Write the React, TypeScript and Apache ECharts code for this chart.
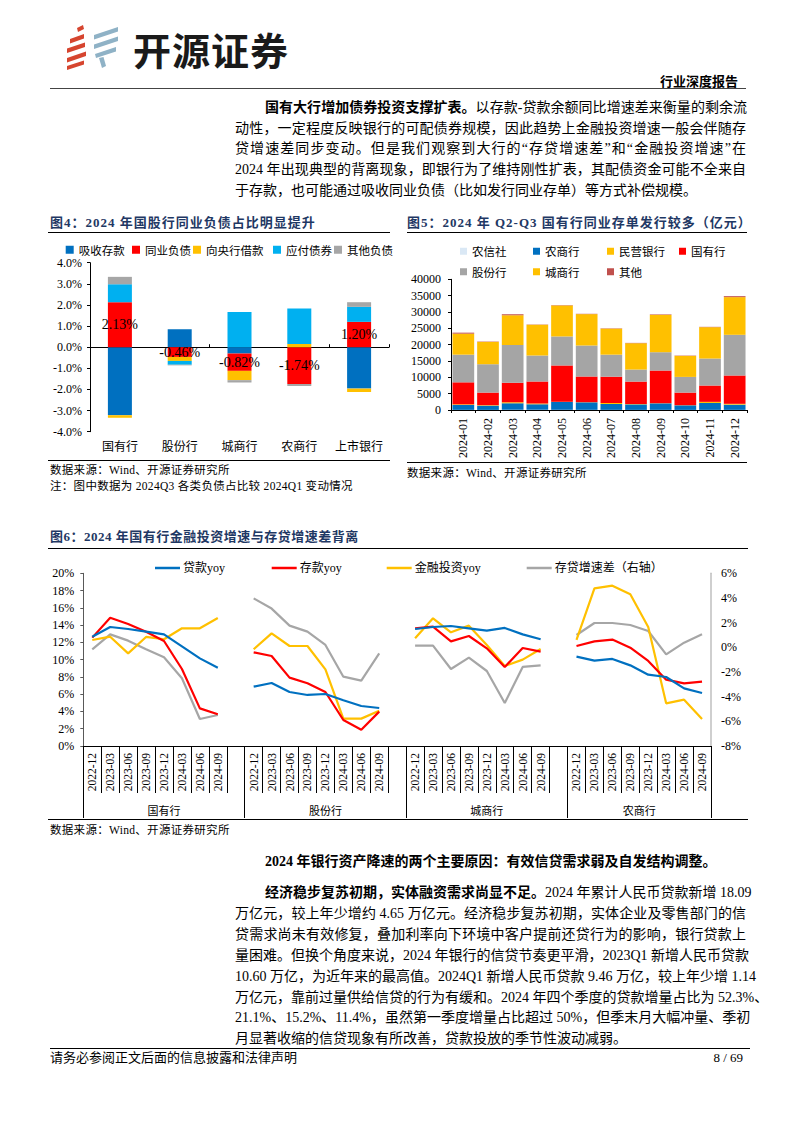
import React, { useEffect, useRef } from "react";
import * as echarts from "echarts";

const FONT = "'Liberation Serif', 'Noto Sans CJK SC', serif";
const CJK = "'Noto Sans CJK SC', sans-serif";
const TITLE_COLOR = "#1f3864";

// ---------- Figure 4 ----------
const F4_CATEGORIES = ["国有行", "股份行", "城商行", "农商行", "上市银行"];
const F4_NAMES = ["吸收存款", "同业负债", "向央行借款", "应付债券", "其他负债"];
const F4_DEPOSITS = [-3.22, 0.85, -0.3, 0, -1.96];
const F4_INTERBANK = [2.13, -0.46, -0.82, -1.74, 1.2];
const F4_CENTRAL = [-0.12, -0.19, -0.44, 0.15, -0.16];
const F4_BONDS = [0.85, -0.18, 1.67, 1.68, 0.71];
const F4_OTHER = [0.35, -0.03, -0.11, -0.1, 0.22];
const F4_COLORS = ["#0070c0", "#ff0000", "#ffc000", "#00b0f0", "#a6a6a6"];
const F4_Y = { min: -4, max: 4, interval: 1 };

// ---------- Figure 5 ----------
const F5_MONTHS = [
  "2024-01", "2024-02", "2024-03", "2024-04", "2024-05", "2024-06",
  "2024-07", "2024-08", "2024-09", "2024-10", "2024-11", "2024-12",
];
const F5_NAMES = ["农信社", "农商行", "民营银行", "国有行", "股份行", "城商行", "其他"];
const F5_RURAL_COOP = [40, 30, 50, 40, 60, 50, 40, 30, 40, 30, 40, 40];
const F5_RURAL_COMM = [1500, 1300, 2000, 1700, 2400, 2300, 1800, 1700, 2000, 1400, 2100, 1600];
const F5_PRIVATE = [200, 150, 300, 250, 50, 50, 300, 100, 50, 50, 350, 250];
const F5_STATE = [6730, 3850, 6020, 6720, 11120, 7850, 8060, 6870, 9990, 3850, 5000, 8670];
const F5_JOINT = [8470, 8680, 11530, 7960, 8880, 9490, 6740, 3680, 5610, 4800, 8260, 12450];
const F5_CITY = [6430, 6840, 9080, 9390, 9490, 9600, 7960, 8060, 11430, 6430, 9600, 11530];
const F5_OTHERS = [300, 100, 300, 100, 100, 100, 100, 100, 150, 100, 100, 300];
const F5_COLORS = ["#dae8f5", "#0070c0", "#ffc000", "#ff0000", "#a5a5a5", "#ffc000", "#c0504d"];
const F5_Y = { min: 0, max: 40000, interval: 5000 };

// ---------- Figure 6 ----------
const F6_GROUPS = ["国有行", "股份行", "城商行", "农商行"];
const F6_DATES = ["2022-12", "2023-03", "2023-06", "2023-09", "2023-12", "2024-03", "2024-06", "2024-09"];
const F6_NAMES = ["贷款yoy", "存款yoy", "金融投资yoy", "存贷增速差（右轴）"];
// 国有行
const F6_STATE_LOAN = [12.66, 13.78, 13.55, 13.24, 12.93, 11.54, 10.15, 9.07];
const F6_STATE_DEP = [12.55, 14.86, 14.13, 13.24, 12.16, 8.92, 4.36, 3.67];
const F6_STATE_INV = [12.28, 12.66, 10.73, 12.63, 12.36, 13.63, 13.63, 14.83];
const F6_STATE_GAP = [-0.16, 1.05, 0.54, -0.16, -0.81, -2.51, -5.81, -5.49];
// 股份行
const F6_JOINT_LOAN = [6.87, 7.3, 6.25, 5.91, 6.02, 5.29, 4.63, 4.4];
const F6_JOINT_DEP = [10.85, 10.42, 7.92, 7.26, 6.25, 3.01, 1.89, 3.98];
const F6_JOINT_INV = [11.2, 13.05, 11.58, 11.58, 8.88, 3.17, 3.17, 4.09];
const F6_JOINT_GAP = [3.97, 3.14, 1.76, 1.27, 0.19, -2.38, -2.7, -0.49];
// 城商行
const F6_CITY_LOAN = [13.55, 13.78, 13.9, 13.63, 13.36, 13.67, 12.93, 12.36];
const F6_CITY_DEP = [13.63, 13.82, 12.12, 12.74, 11.31, 9.15, 11.35, 10.93];
const F6_CITY_INV = [12.47, 14.79, 13.17, 13.94, 11.7, 9.27, 10.0, 11.24];
const F6_CITY_GAP = [0.14, 0.14, -1.76, -0.84, -1.92, -4.51, -1.59, -1.46];
// 农商行
const F6_RURAL_LOAN = [10.35, 9.88, 10.08, 9.34, 8.26, 7.99, 6.68, 6.14];
const F6_RURAL_DEP = [11.58, 12.12, 12.32, 11.39, 9.85, 7.68, 7.26, 7.45];
const F6_RURAL_INV = [12.28, 18.26, 18.57, 17.57, 13.78, 4.94, 5.37, 3.13];
const F6_RURAL_GAP = [1.0, 1.97, 1.97, 1.81, 1.32, -0.57, 0.38, 1.05];
const F6_COLORS = ["#0070c0", "#ff0000", "#ffc000", "#a6a6a6"];
const F6_LEFT_Y = { min: 0, max: 20, interval: 2 };
const F6_RIGHT_Y = { min: -8, max: 6, interval: 2 };

function EChart({ option, style }: { option: any; style: React.CSSProperties }) {
  const ref = useRef<HTMLDivElement>(null);
  useEffect(() => {
    const chart = echarts.init(ref.current as HTMLDivElement, null, { renderer: "svg" });
    chart.setOption(option);
    return () => chart.dispose();
  }, []);
  return <div ref={ref} style={{ position: "absolute", ...style }} />;
}

// ---------- options ----------
function fig4Option() {
  const values = [F4_DEPOSITS, F4_INTERBANK, F4_CENTRAL, F4_BONDS, F4_OTHER];
  const legendLeft = [20.7, 87, 148, 228, 289];
  return {
    animation: false,
    textStyle: { fontFamily: FONT },
    legend: F4_NAMES.map((name, i) => ({
      data: [name],
      top: 3,
      left: legendLeft[i],
      icon: "rect",
      itemWidth: 8,
      itemHeight: 8,
      itemGap: 0,
      selectedMode: false,
      textStyle: { fontSize: 11.5, color: "#000", fontFamily: CJK },
    })),
    grid: { left: 50, right: 6, top: 26.7, bottom: 24.3 },
    xAxis: [
      {
        type: "category",
        data: F4_CATEGORIES,
        axisLine: { show: false, onZero: false },
        axisTick: { show: false },
        axisLabel: { interval: 0, fontSize: 12, color: "#000", margin: 8, fontFamily: CJK },
      },
      {
        type: "category",
        data: F4_CATEGORIES,
        position: "bottom",
        axisLine: { show: true, onZero: true, lineStyle: { color: "#000", width: 1 } },
        axisTick: { show: true, inside: true, length: 3, lineStyle: { color: "#000" } },
        axisLabel: { show: false },
      },
    ],
    yAxis: {
      type: "value",
      ...F4_Y,
      axisLine: { show: true, lineStyle: { color: "#000" } },
      axisTick: { show: true, length: 3, lineStyle: { color: "#000" } },
      splitLine: { show: false },
      axisLabel: {
        formatter: (v: number) => v.toFixed(1) + "%",
        fontSize: 12,
        color: "#000",
        margin: 8,
      },
    },
    series: F4_NAMES.map((name, i) => ({
      name,
      type: "bar",
      stack: "total",
      barWidth: 24,
      data: values[i],
      itemStyle: { color: F4_COLORS[i] },
      label:
        i === 1
          ? {
              show: true,
              position: "inside",
              formatter: (p: any) => Number(p.value).toFixed(2) + "%",
              color: "#000",
              fontSize: 14,
              fontFamily: FONT,
            }
          : { show: false },
    })),
  };
}

function fig5Option() {
  const values = [F5_RURAL_COOP, F5_RURAL_COMM, F5_PRIVATE, F5_STATE, F5_JOINT, F5_CITY, F5_OTHERS];
  const legendPos: [number, number][] = [
    [55, 4.5], [128, 4.5], [202, 4.5], [274, 4.5],
    [55, 25], [128, 25], [202, 25],
  ];
  return {
    animation: false,
    textStyle: { fontFamily: FONT },
    legend: F5_NAMES.map((name, i) => ({
      data: [name],
      left: legendPos[i][0],
      top: legendPos[i][1],
      icon: "rect",
      itemWidth: 7,
      itemHeight: 7,
      selectedMode: false,
      textStyle: { fontSize: 11.5, color: "#000", fontFamily: CJK },
    })),
    grid: { left: 51, right: 13, top: 43.3, bottom: 52 },
    xAxis: {
      type: "category",
      data: F5_MONTHS,
      axisLine: { lineStyle: { color: "#000" } },
      axisTick: { show: true, length: 3, lineStyle: { color: "#000" } },
      axisLabel: { rotate: 90, interval: 0, fontSize: 12, color: "#000", margin: 8 },
    },
    yAxis: {
      type: "value",
      ...F5_Y,
      axisLine: { show: true, lineStyle: { color: "#000" } },
      axisTick: { show: true, length: 3, lineStyle: { color: "#000" } },
      splitLine: { show: false },
      axisLabel: { formatter: (v: number) => String(v), fontSize: 12, color: "#000", margin: 10 },
    },
    series: F5_NAMES.map((name, i) => ({
      name,
      type: "bar",
      stack: "total",
      barCategoryGap: "12%",
      data: values[i],
      itemStyle: { color: F5_COLORS[i] },
    })),
  };
}

function fig6Option() {
  const groups = [
    [F6_STATE_LOAN, F6_STATE_DEP, F6_STATE_INV, F6_STATE_GAP],
    [F6_JOINT_LOAN, F6_JOINT_DEP, F6_JOINT_INV, F6_JOINT_GAP],
    [F6_CITY_LOAN, F6_CITY_DEP, F6_CITY_INV, F6_CITY_GAP],
    [F6_RURAL_LOAN, F6_RURAL_DEP, F6_RURAL_INV, F6_RURAL_GAP],
  ];
  const slots: string[] = [];
  const regions: [number, number][] = [];
  const seriesData: (number | null)[][] = [[], [], [], []];
  F6_GROUPS.forEach((_, gi) => {
    const start = slots.length;
    F6_DATES.forEach((d, di) => {
      slots.push(d);
      for (let s = 0; s < 4; s++) seriesData[s].push(groups[gi][s][di]);
    });
    if (gi < F6_GROUPS.length - 1) {
      slots.push("");
      for (let s = 0; s < 4; s++) seriesData[s].push(null);
    }
    regions.push([start, slots.length]);
  });
  const half = slots.length * 2 + 1;
  const groupAxis: string[] = new Array(half).fill("");
  const tickIdx = new Set<number>();
  const labelIdx = new Set<number>();
  regions.forEach(([a, b], gi) => {
    groupAxis[a + b] = F6_GROUPS[gi];
    labelIdx.add(a + b);
    tickIdx.add(2 * a);
    tickIdx.add(2 * b);
  });
  const legendLeft = [110, 226.7, 341.7, 481.7];
  return {
    animation: false,
    textStyle: { fontFamily: FONT },
    legend: F6_NAMES.map((name, i) => ({
      data: [name],
      left: legendLeft[i],
      top: 7,
      icon: "rect",
      itemWidth: 25,
      itemHeight: 2.5,
      itemGap: 0,
      selectedMode: false,
      textStyle: { fontSize: 12, color: "#000", fontFamily: FONT, padding: [0, 0, 0, -2] },
    })),
    grid: { left: 43.3, right: 39, top: 23.3, bottom: 74 },
    xAxis: [
      {
        type: "category",
        data: slots,
        boundaryGap: true,
        axisLine: { lineStyle: { color: "#000" } },
        axisTick: { show: true, interval: 0, length: 47, lineStyle: { color: "#000" } },
        axisLabel: { rotate: 90, interval: 0, fontSize: 11.5, color: "#000", margin: 7 },
      },
      {
        type: "category",
        data: groupAxis,
        boundaryGap: false,
        position: "bottom",
        axisLine: { show: false, onZero: false },
        axisTick: {
          show: true,
          interval: (i: number) => tickIdx.has(i),
          length: 72,
          lineStyle: { color: "#000" },
        },
        axisLabel: {
          interval: (i: number) => labelIdx.has(i),
          fontSize: 11,
          color: "#000",
          margin: 58,
          fontFamily: CJK,
        },
      },
    ],
    yAxis: [
      {
        type: "value",
        ...F6_LEFT_Y,
        axisLine: { show: true, lineStyle: { color: "#595959" } },
        axisTick: { show: true, length: 3, lineStyle: { color: "#595959" } },
        splitLine: { show: false },
        axisLabel: { formatter: "{value}%", fontSize: 12, color: "#000", margin: 9 },
      },
      {
        type: "value",
        position: "right",
        ...F6_RIGHT_Y,
        axisLine: { show: true, lineStyle: { color: "#bfbfbf", width: 1.5 } },
        axisTick: { show: false },
        splitLine: { show: false },
        axisLabel: { formatter: "{value}%", fontSize: 12, color: "#000", margin: 10 },
      },
    ],
    series: F6_NAMES.map((name, i) => ({
      name,
      type: "line",
      xAxisIndex: 0,
      yAxisIndex: i === 3 ? 1 : 0,
      data: seriesData[i],
      showSymbol: false,
      symbol: "none",
      connectNulls: false,
      lineStyle: { color: F6_COLORS[i], width: 2.2 },
      itemStyle: { color: F6_COLORS[i] },
      z: i === 3 ? 1 : 2 + (3 - i),
    })),
  };
}

// ---------- page helpers ----------
function HLine({ x1, x2, y, w = 1, color = "#000" }: { x1: number; x2: number; y: number; w?: number; color?: string }) {
  return (
    <div
      style={{
        position: "absolute",
        left: x1,
        top: y - w / 2,
        width: x2 - x1,
        height: w,
        background: color,
      }}
    />
  );
}

function Txt({
  x, cy, size, children, bold, color = "#000", spacing = 0, family = FONT, right,
}: {
  x: number; cy: number; size: number; children: React.ReactNode; bold?: boolean; color?: string;
  spacing?: number; family?: string; right?: boolean;
}) {
  const lh = Math.round(size * 1.4);
  const style: React.CSSProperties = {
    position: "absolute",
    top: cy - lh / 2,
    height: lh,
    lineHeight: lh + "px",
    fontSize: size,
    fontWeight: bold ? "bold" : "normal",
    color,
    letterSpacing: spacing,
    whiteSpace: "nowrap",
    fontFamily: family,
  };
  if (right) style.right = 794 - x;
  else style.left = x;
  return <div style={style}>{children}</div>;
}

function JLine({ x, w, cy, children, last }: { x: number; w: number; cy: number; children: React.ReactNode; last?: boolean }) {
  return (
    <div
      style={{
        position: "absolute",
        left: x,
        width: w,
        top: cy - 10,
        height: 20,
        lineHeight: "20px",
        fontSize: 14,
        color: "#000",
        fontFamily: FONT,
        whiteSpace: "nowrap",
        textAlign: last ? "left" : "justify",
        textAlignLast: last ? "left" : "justify",
      }}
    >
      {children}
    </div>
  );
}

function Logo() {
  const red = "#d6452f";
  const blue = "#8fb2c6";
  return (
    <svg style={{ position: "absolute", left: 0, top: 0 }} width={130} height={80}>
      <polygon points="77,28 83,25 84,29 78,32" fill={red} />
      <polygon points="70,39 84,34 84,38.5 70,43.5" fill={red} />
      <polygon points="67,48.5 85,42.5 85,47 67,53" fill={red} />
      <polygon points="67,58 86,51.5 86,56 67,62.5" fill={red} />
      <polygon points="67,66 84,60.5 84,64.5 67,70" fill={red} />
      <polygon points="94,35 118,27 118,31.5 94,39.5" fill={blue} />
      <polygon points="94,44.5 118,36.5 118,41 94,49" fill={blue} />
      <polygon points="95,54 116,47 116,51.5 96,58" fill={blue} />
      <polygon points="99,58 103.5,57 106,66 102,68" fill={blue} />
    </svg>
  );
}

const P1 = [107.8, 128.5, 149.2, 169.9, 190.6];
const P2 = [893.3, 914.2, 935.0, 955.9, 976.7, 997.6, 1018.4, 1039.3];

export default function App() {
  const o4 = fig4Option();
  const o5 = fig5Option();
  const o6 = fig6Option();
  return (
    <div style={{ position: "absolute", left: 0, top: 0, width: 794, height: 1123, background: "#fff", overflow: "hidden" }}>
      <Logo />
      <Txt x={133} cy={48} size={38} bold family={CJK} color="#1a1a1a" spacing={1}>
        开源证券
      </Txt>
      <Txt x={738} cy={80.7} size={13} bold right family={CJK}>
        行业深度报告
      </Txt>
      <HLine x1={50} x2={746} y={88.3} w={1.5} color="#444" />

      <JLine x={265} w={482} cy={P1[0]}>
        <b>国有大行增加债券投资支撑扩表。</b>以存款-贷款余额同比增速差来衡量的剩余流
      </JLine>
      <JLine x={235} w={511} cy={P1[1]}>
        动性，一定程度反映银行的可配债券规模，因此趋势上金融投资增速一般会伴随存
      </JLine>
      <JLine x={235} w={511} cy={P1[2]}>
        贷增速差同步变动。但是我们观察到大行的“存贷增速差”和“金融投资增速”在
      </JLine>
      <JLine x={235} w={511} cy={P1[3]}>
        2024 年出现典型的背离现象，即银行为了维持刚性扩表，其配债资金可能不全来自
      </JLine>
      <JLine x={235} w={511} cy={P1[4]} last>
        于存款，也可能通过吸收同业负债（比如发行同业存单）等方式补偿规模。
      </JLine>

      {/* Figure 4 */}
      <Txt x={50} cy={222.7} size={13} bold color={TITLE_COLOR} spacing={1}>
        图4：2024 年国股行同业负债占比明显提升
      </Txt>
      <HLine x1={48} x2={390} y={232} />
      <EChart option={o4} style={{ left: 40, top: 236, width: 355, height: 220 }} />
      <HLine x1={48} x2={390} y={460.7} />
      <Txt x={50} cy={469.5} size={11.5} spacing={0.3}>
        数据来源：Wind、开源证券研究所
      </Txt>
      <Txt x={50} cy={486} size={11.5} spacing={0.3}>
        注：图中数据为 2024Q3 各类负债占比较 2024Q1 变动情况
      </Txt>

      {/* Figure 5 */}
      <Txt x={407} cy={222.7} size={13} bold color={TITLE_COLOR} spacing={1}>
        图5：2024 年 Q2-Q3 国有行同业存单发行较多（亿元）
      </Txt>
      <HLine x1={407} x2={747} y={232} />
      <EChart option={o5} style={{ left: 400, top: 236, width: 360, height: 226 }} />
      <HLine x1={407} x2={747} y={462.3} />
      <Txt x={407} cy={473.3} size={11.5} spacing={0.3}>
        数据来源：Wind、开源证券研究所
      </Txt>

      {/* Figure 6 */}
      <Txt x={50} cy={536.7} size={13} bold color={TITLE_COLOR} spacing={0.5}>
        图6：2024 年国有行金融投资增速与存贷增速差背离
      </Txt>
      <HLine x1={48} x2={748} y={548.3} />
      <EChart option={o6} style={{ left: 40, top: 550, width: 710, height: 270 }} />
      <HLine x1={48} x2={748} y={819.5} />
      <Txt x={50} cy={830} size={11.5} spacing={0.3}>
        数据来源：Wind、开源证券研究所
      </Txt>

      {/* Lower text */}
      <Txt x={265} cy={861.7} size={14} bold>
        2024 年银行资产降速的两个主要原因：有效信贷需求弱及自发结构调整。
      </Txt>
      <JLine x={265} w={481} cy={P2[0]}>
        <b>经济稳步复苏初期，实体融资需求尚显不足。</b>2024 年累计人民币贷款新增 18.09
      </JLine>
      <JLine x={235} w={511} cy={P2[1]}>
        万亿元，较上年少增约 4.65 万亿元。经济稳步复苏初期，实体企业及零售部门的信
      </JLine>
      <JLine x={235} w={511} cy={P2[2]}>
        贷需求尚未有效修复，叠加利率向下环境中客户提前还贷行为的影响，银行贷款上
      </JLine>
      <JLine x={235} w={511} cy={P2[3]}>
        量困难。但换个角度来说，2024 年银行的信贷节奏更平滑，2023Q1 新增人民币贷款
      </JLine>
      <JLine x={235} w={511} cy={P2[4]}>
        10.60 万亿，为近年来的最高值。2024Q1 新增人民币贷款 9.46 万亿，较上年少增 1.14
      </JLine>
      <JLine x={235} w={511} cy={P2[5]}>
        万亿元，靠前过量供给信贷的行为有缓和。2024 年四个季度的贷款增量占比为 52.3%、
      </JLine>
      <JLine x={235} w={511} cy={P2[6]}>
        21.1%、15.2%、11.4%，虽然第一季度增量占比超过 50%，但季末月大幅冲量、季初
      </JLine>
      <JLine x={235} w={511} cy={P2[7]} last>
        月显著收缩的信贷现象有所改善，贷款投放的季节性波动减弱。
      </JLine>

      {/* Footer */}
      <HLine x1={50} x2={750} y={1048.3} w={1.5} />
      <Txt x={50} cy={1058.3} size={13}>
        请务必参阅正文后面的信息披露和法律声明
      </Txt>
      <Txt x={743} cy={1058.3} size={13} right>
        8 / 69
      </Txt>
    </div>
  );
}
